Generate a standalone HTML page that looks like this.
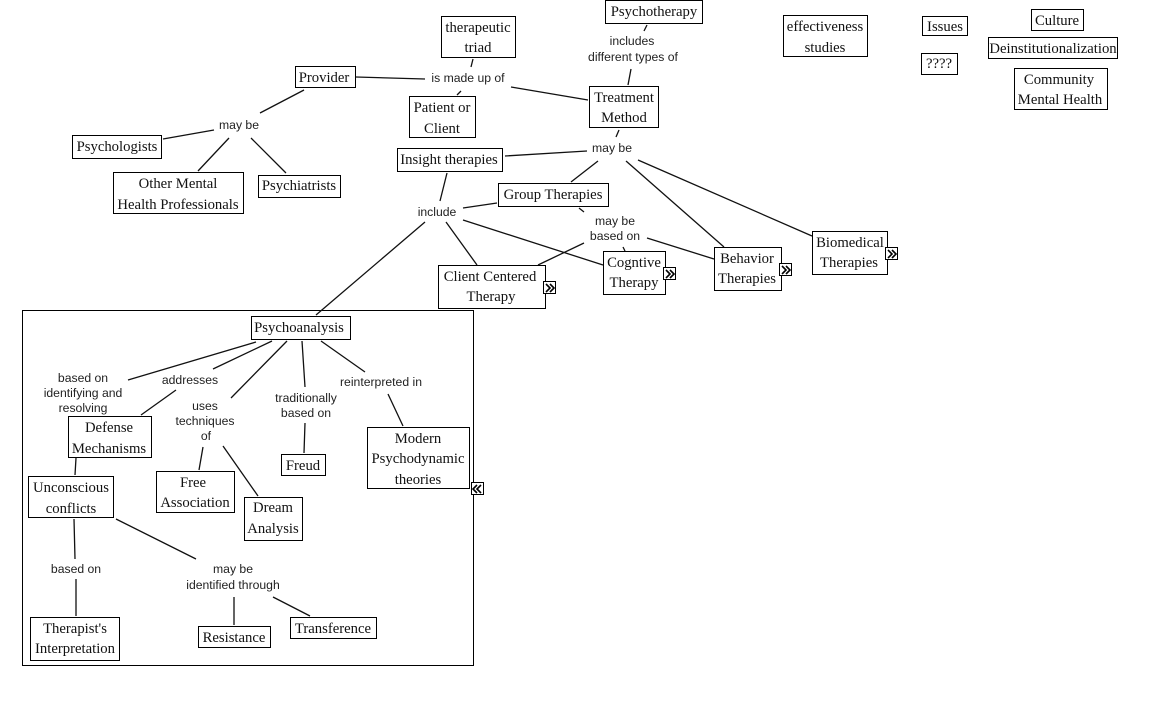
<!DOCTYPE html>
<html><head><meta charset="utf-8"><style>
html,body{margin:0;padding:0;background:#fff}
svg{display:block}
.b{fill:#fff;stroke:#000;stroke-width:1}
.l{stroke:#111;stroke-width:1.3;fill:none}
.s{font:14.7px "Liberation Serif",serif;text-anchor:middle;fill:#111}
.a{font:12.2px "Liberation Sans",sans-serif;text-anchor:middle;fill:#222}
.c{fill:none;stroke:#000;stroke-width:1.6}
</style></head><body>
<svg width="1158" height="706" viewBox="0 0 1158 706" xmlns="http://www.w3.org/2000/svg">
<rect width="1158" height="706" fill="#fff"/>
<rect x="22.5" y="310.5" width="451" height="355" fill="none" stroke="#000"/>
<g class="l">
<path d="M473 59L471 67M647 25L644 31M631 69L628 85M356 77L425 79M511 87L588 100M461 91L457 95M619 130L616 137M587 151L505 156M598 161L571 182M626 161L724 247M638 160L812 236M447 173L440 201M463 208L497 203M463 220L603 265M446 222L477 265M425 222L316 315M579 208L584 212M584 243L538 265M623 247L625 251M647 238L714 259"/>
<path d="M304 90L260 113M214 130L163 139M229 138L198 171M251 138L286 173"/>
<path d="M128 380L256 342M213 369L272 341M176 390L141 415M231 398L287 341M305 387L302 341M305 423L304 453M365 372L321 341M388 394L403 426M76 458L75 475M203 447L199 470M223 446L258 496M74 519L75 559M76 579L76 616M116 519L196 559M234 597L234 625M273 597L310 616"/>
</g>
<g class="b">
<rect x="441.5" y="16.5" width="74" height="41"/>
<rect x="605.5" y="0.5" width="97" height="23"/>
<rect x="589.5" y="86.5" width="69" height="41"/>
<rect x="409.5" y="96.5" width="66" height="41"/>
<rect x="397.5" y="148.5" width="105" height="23"/>
<rect x="498.5" y="183.5" width="110" height="23"/>
<rect x="438.5" y="265.5" width="107" height="43"/>
<rect x="603.5" y="251.5" width="62" height="43"/>
<rect x="714.5" y="247.5" width="67" height="43"/>
<rect x="812.5" y="231.5" width="75" height="43"/>
<rect x="295.5" y="66.5" width="60" height="21"/>
<rect x="72.5" y="135.5" width="89" height="23"/>
<rect x="113.5" y="172.5" width="130" height="41"/>
<rect x="258.5" y="175.5" width="82" height="22"/>
<rect x="251.5" y="316.5" width="99" height="23"/>
<rect x="68.5" y="416.5" width="83" height="41"/>
<rect x="28.5" y="476.5" width="85" height="41"/>
<rect x="156.5" y="471.5" width="78" height="41"/>
<rect x="244.5" y="497.5" width="58" height="43"/>
<rect x="281.5" y="454.5" width="44" height="21"/>
<rect x="367.5" y="427.5" width="102" height="61"/>
<rect x="30.5" y="617.5" width="89" height="43"/>
<rect x="198.5" y="626.5" width="72" height="21"/>
<rect x="290.5" y="617.5" width="86" height="21"/>
<rect x="783.5" y="15.5" width="84" height="41"/>
<rect x="922.5" y="16.5" width="45" height="19"/>
<rect x="921.5" y="53.5" width="36" height="21"/>
<rect x="1031.5" y="9.5" width="52" height="21"/>
<rect x="988.5" y="37.5" width="129" height="21"/>
<rect x="1014.5" y="68.5" width="93" height="41"/>
<rect x="543.5" y="281.5" width="12" height="12"/>
<rect x="663.5" y="267.5" width="12" height="12"/>
<rect x="779.5" y="263.5" width="12" height="12"/>
<rect x="885.5" y="247.5" width="12" height="12"/>
<rect x="471.5" y="482.5" width="12" height="12"/>
</g>
<g class="c">
<path d="M546 284l4 4-4 4M550 284l4 4-4 4"/>
<path d="M666 270l4 4-4 4M670 270l4 4-4 4"/>
<path d="M782 266l4 4-4 4M786 266l4 4-4 4"/>
<path d="M888 250l4 4-4 4M892 250l4 4-4 4"/>
<path d="M477 485l-4 4 4 4M481 485l-4 4 4 4"/>
</g>
<g class="s">
<text x="478" y="32">therapeutic</text><text x="478" y="52">triad</text>
<text x="654" y="16">Psychotherapy</text>
<text x="624" y="102">Treatment</text><text x="624" y="122">Method</text>
<text x="442" y="112">Patient or</text><text x="442" y="133">Client</text>
<text x="449" y="164">Insight therapies</text>
<text x="553" y="199">Group Therapies</text>
<text x="490" y="281">Client Centered</text><text x="491" y="301">Therapy</text>
<text x="634" y="267">Cogntive</text><text x="634" y="287">Therapy</text>
<text x="747" y="263">Behavior</text><text x="747" y="283">Therapies</text>
<text x="850" y="247">Biomedical</text><text x="849" y="267">Therapies</text>
<text x="324" y="82">Provider</text>
<text x="117" y="151">Psychologists</text>
<text x="178" y="188">Other Mental</text><text x="178" y="209">Health Professionals</text>
<text x="299" y="190">Psychiatrists</text>
<text x="299" y="332">Psychoanalysis</text>
<text x="109" y="432">Defense</text><text x="109" y="453">Mechanisms</text>
<text x="71" y="492">Unconscious</text><text x="71" y="513">conflicts</text>
<text x="193" y="487">Free</text><text x="195" y="507">Association</text>
<text x="273" y="512">Dream</text><text x="273" y="533">Analysis</text>
<text x="303" y="470">Freud</text>
<text x="418" y="443">Modern</text><text x="418" y="463">Psychodynamic</text><text x="418" y="484">theories</text>
<text x="75" y="633">Therapist's</text><text x="75" y="653">Interpretation</text>
<text x="234" y="642">Resistance</text>
<text x="333" y="633">Transference</text>
<text x="825" y="31">effectiveness</text><text x="825" y="52">studies</text>
<text x="945" y="31">Issues</text>
<text x="939" y="68">????</text>
<text x="1057" y="25">Culture</text>
<text x="1053" y="53">Deinstitutionalization</text>
<text x="1059" y="84">Community</text><text x="1060" y="104">Mental Health</text>
</g>
<g class="a">
<text x="468" y="82">is made up of</text>
<text x="632" y="45">includes</text><text x="633" y="61">different types of</text>
<text x="612" y="152">may be</text>
<text x="437" y="216">include</text>
<text x="615" y="225">may be</text><text x="615" y="240">based on</text>
<text x="239" y="129">may be</text>
<text x="83" y="382">based on</text><text x="83" y="397">identifying and</text><text x="83" y="412">resolving</text>
<text x="190" y="384">addresses</text>
<text x="205" y="410">uses</text><text x="205" y="425">techniques</text><text x="206" y="440">of</text>
<text x="306" y="402">traditionally</text><text x="306" y="417">based on</text>
<text x="381" y="386">reinterpreted in</text>
<text x="76" y="573">based on</text>
<text x="233" y="573">may be</text><text x="233" y="589">identified through</text>
</g>
</svg>
</body></html>
